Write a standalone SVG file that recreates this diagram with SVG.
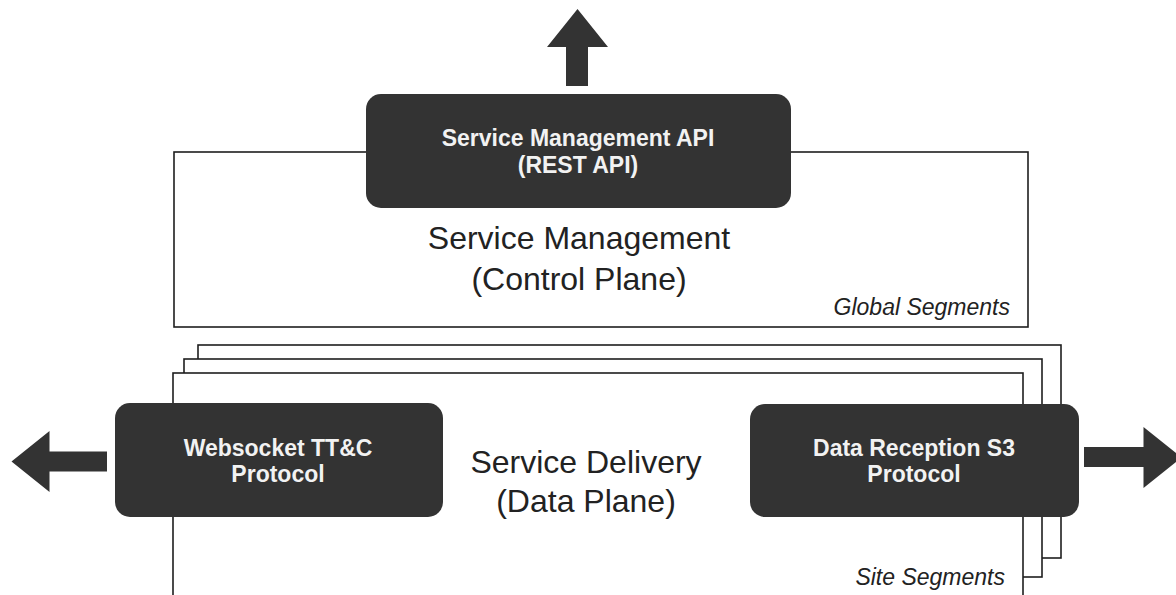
<svg xmlns="http://www.w3.org/2000/svg" width="1176" height="595" viewBox="0 0 1176 595">
  <style>
    .frame { fill: #ffffff; stroke: #1e1e1e; stroke-width: 1.6; }
    .node { fill: #333333; }
    .arrow { fill: #333333; }
    .ntext { font-family: "Liberation Sans", Arial, sans-serif; font-weight: bold; font-size: 23px; fill: #f2f2f2; text-anchor: middle; }
    .big { font-family: "Liberation Sans", Arial, sans-serif; font-size: 32px; fill: #222222; text-anchor: middle; }
    .seg { font-family: "Liberation Sans", Arial, sans-serif; font-style: italic; font-size: 23px; fill: #222222; text-anchor: end; }
  </style>
  <rect width="1176" height="595" fill="#ffffff"/>

  <g id="control-plane">
    <rect class="frame" x="174" y="152" width="854" height="175"/>
    <text class="big" x="579" y="249">Service Management</text>
    <text class="big" x="579" y="290">(Control Plane)</text>
    <text class="seg" x="1010" y="315">Global Segments</text>
  </g>

  <g id="data-plane">
    <rect class="frame" x="198" y="345" width="863" height="213"/>
    <rect class="frame" x="184" y="359" width="858" height="218"/>
    <rect class="frame" x="173" y="373" width="850" height="260"/>
    <text class="big" x="586" y="473">Service Delivery</text>
    <text class="big" x="586" y="512">(Data Plane)</text>
    <text class="seg" x="1005" y="585">Site Segments</text>
  </g>

  <g id="service-management-api">
    <rect class="node" x="366" y="94" width="425" height="114" rx="15"/>
    <text class="ntext" x="578" y="146">Service Management API</text>
    <text class="ntext" x="578" y="173">(REST API)</text>
  </g>

  <g id="websocket-ttc">
    <rect class="node" x="115" y="403" width="328" height="114" rx="15"/>
    <text class="ntext" x="278" y="456">Websocket TT&amp;C</text>
    <text class="ntext" x="278" y="482">Protocol</text>
  </g>

  <g id="data-reception-s3">
    <rect class="node" x="750" y="404" width="329" height="113" rx="15"/>
    <text class="ntext" x="914" y="456">Data Reception S3</text>
    <text class="ntext" x="914" y="482">Protocol</text>
  </g>

  <g id="connectors">
    <polygon class="arrow" points="577.5,9 608,47 588,47 588,86 566,86 566,47 547,47"/>
    <polygon class="arrow" points="11.5,461.5 49.5,431 49.5,451.5 107,451.5 107,471.5 49.5,471.5 49.5,492"/>
    <polygon class="arrow" points="1181.5,457.5 1143.5,427 1143.5,447 1084,447 1084,467 1143.5,467 1143.5,488"/>
  </g>
</svg>
